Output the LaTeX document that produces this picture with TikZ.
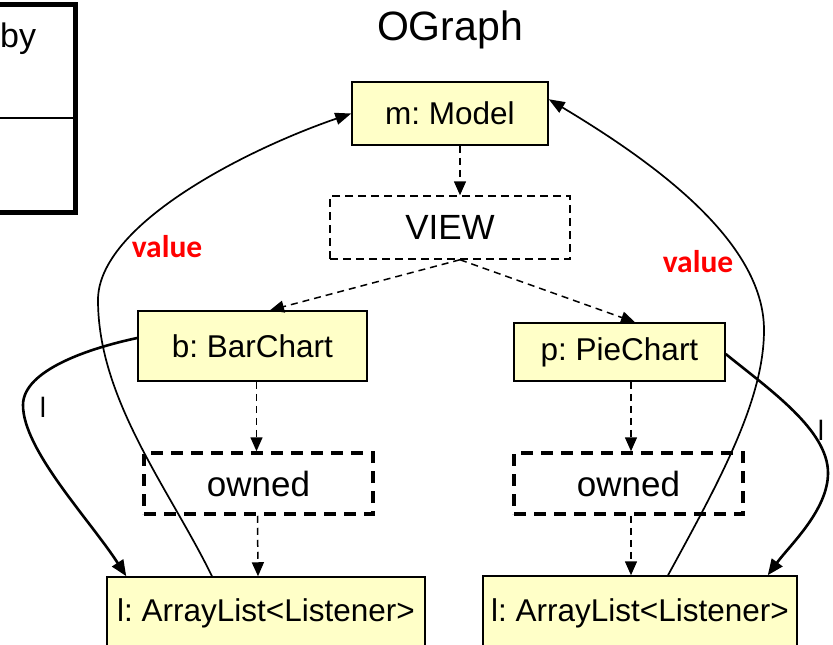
\documentclass[tikz,border=0pt]{standalone}
\usepackage{fontspec}
\setmainfont{Liberation Sans}
\newfontfamily\labelfont{Carlito}
\usetikzlibrary{arrows.meta}
\frenchspacing
\definecolor{classfill}{RGB}{255,255,200}
\definecolor{valuered}{RGB}{255,0,0}
\tikzset{
  classbox/.style={draw, fill=classfill, line width=1.5pt, inner sep=0pt,
    font=\fontsize{31.5}{36}\selectfont},
  viewbox/.style={draw, line width=1.5pt, dash pattern=on 8pt off 5pt, inner sep=0pt,
    font=\fontsize{35}{40}\selectfont},
  ownedbox/.style={draw, line width=3.5pt, dash pattern=on 12pt off 8pt, inner sep=0pt,
    font=\fontsize{35}{40}\selectfont},
  contains/.style={line width=1.5pt, dash pattern=on 7pt off 5pt,
    -{Triangle[length=14pt,width=12pt]}},
  valueedge/.style={line width=1.7pt, -{Triangle[length=16pt,width=12pt]}},
  listedge/.style={line width=2.6pt, -{Triangle[length=16pt,width=13pt]}},
  valuelabel/.style={text=valuered, font=\labelfont\bfseries\fontsize{31.5}{34}\selectfont, inner sep=0pt},
  edgelabel/.style={font=\fontsize{28}{32}\selectfont, inner sep=0pt}
}
\begin{document}
\begin{tikzpicture}[x=1pt,y=-1pt]
\useasboundingbox (0,0) rectangle (833,645);
\clip (0,0) rectangle (833,645);

% partially visible class box at the upper left
\draw[line width=5pt, fill=white] (-20,4.5) rectangle (75.5,212.5);
\draw[line width=2.5pt] (-20,118) -- (75.5,118);
\node[anchor=base west, inner sep=0pt, font=\fontsize{34}{38}\selectfont] (by) at (0,47) {by};

% title
\node[inner sep=0pt, font=\fontsize{41}{46}\selectfont] (title) at (450,30) {OGraph};

% objects and domains
\node[classbox, minimum width=196pt, minimum height=63pt] (m) at (450,113.5) {m: Model};
\node[viewbox, minimum width=240pt, minimum height=63pt] (v) at (450,227.5) {VIEW};
\node[classbox, minimum width=229pt, minimum height=70pt] (b) at (252.5,346) {b: BarChart};
\node[classbox, minimum width=211pt, minimum height=58pt] (p) at (619.5,352) {p: PieChart};
\node[ownedbox, minimum width=229pt, minimum height=61pt] (ol) at (258.5,483.5) {owned};
\node[ownedbox, minimum width=229pt, minimum height=61pt] (or) at (628.5,483.5) {owned};
\node[classbox, minimum width=318pt, minimum height=73pt] (la) at (266,613.5) {l: ArrayList<Listener>};
\node[classbox, minimum width=314pt, minimum height=74pt] (ra) at (640,613) {l: ArrayList<Listener>};

% ownership (dashed)
\draw[contains] ([xshift=10pt]m.south) -- ([xshift=10pt]v.north);
\draw[contains] ([xshift=10pt]v.south) -- ([xshift=17.5pt]b.north);
\draw[contains] ([xshift=10pt]v.south) -- ([xshift=15.5pt]p.north);
\draw[contains] ([xshift=4pt]b.south) -- ([xshift=-2pt]ol.north);
\draw[contains] ([xshift=-1pt]ol.south) -- ([xshift=-8pt]la.north);
\draw[contains] ([xshift=11.5pt]p.south) -- ([xshift=2.5pt]or.north);
\draw[contains] ([xshift=2.5pt]or.south) -- ([xshift=-9pt]ra.north);

% value edges
\draw[valueedge] ([xshift=-54pt]la.north)
  .. controls (170,490) and (98,400) .. (98,300)
  .. controls (98,225) and (245,150) .. (m.west);
\draw[valueedge] ([xshift=28pt]ra.north)
  .. controls (720,480) and (764,400) .. (764,330)
  .. controls (764,240) and (650,160) .. ([yshift=-18pt]m.north east);
\node[valuelabel] (vl) at (167,247) {value};
\node[valuelabel] (vr) at (698,262) {value};

% listener edges
\draw[listedge] ([yshift=8pt]b.west)
  .. controls (90,348) and (23,370) .. (23,405)
  .. controls (23,450) and (90,520) .. ([xshift=20pt]la.north west);
\draw[listedge] ([yshift=-2pt]p.east)
  .. controls (770,390) and (828,430) .. (828,473)
  .. controls (828,510) and (790,545) .. ([xshift=-30pt]ra.north east);
\node[edgelabel] (ll) at (43,407) {l};
\node[edgelabel] (lr) at (821,430) {l};
\end{tikzpicture}
\end{document}
